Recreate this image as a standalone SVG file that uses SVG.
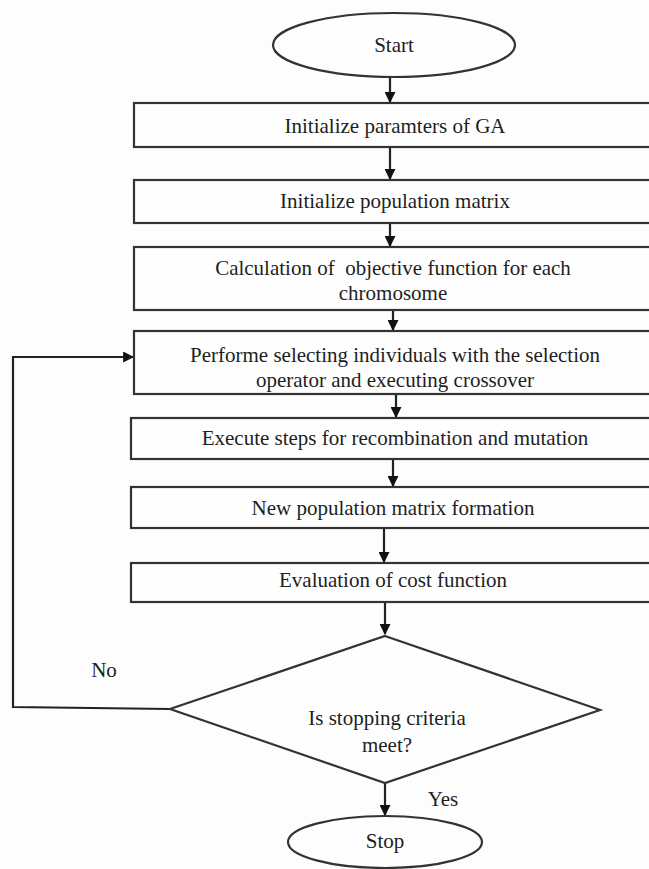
<svg xmlns="http://www.w3.org/2000/svg" width="649" height="869" viewBox="0 0 649 869">
  <style>
    .shape { fill: #fefefe; stroke: #333; stroke-width: 2.2; }
    .lbl { font-family: "Liberation Serif", "Times New Roman", serif; font-size: 21px; fill: #1e1e1e; text-anchor: middle; white-space: pre; }
    .conn { fill: none; stroke: #222; stroke-width: 2.2; }
  </style>
  <defs>
    <marker id="arrow" viewBox="0 0 10 10" refX="9" refY="5" markerWidth="5" markerHeight="5" orient="auto" markerUnits="strokeWidth">
      <path d="M0,0 L10,5 L0,10 Z" fill="#111"/>
    </marker>
  </defs>
  <rect x="0" y="0" width="649" height="869" fill="#fdfdfd"/>

  <g id="connectors">
    <line class="conn" x1="390" y1="77" x2="390" y2="102" marker-end="url(#arrow)"/>
    <line class="conn" x1="390" y1="147" x2="390" y2="179" marker-end="url(#arrow)"/>
    <line class="conn" x1="390" y1="223" x2="390" y2="246" marker-end="url(#arrow)"/>
    <line class="conn" x1="393" y1="310" x2="393" y2="330" marker-end="url(#arrow)"/>
    <line class="conn" x1="396" y1="394" x2="396" y2="417" marker-end="url(#arrow)"/>
    <line class="conn" x1="393" y1="459" x2="393" y2="486" marker-end="url(#arrow)"/>
    <line class="conn" x1="384" y1="528" x2="384" y2="562" marker-end="url(#arrow)"/>
    <line class="conn" x1="385" y1="602" x2="385" y2="634" marker-end="url(#arrow)"/>
    <line class="conn" x1="385" y1="783" x2="385" y2="815" marker-end="url(#arrow)"/>
    <polyline class="conn" points="170,709 13,707 13,357 133,357" marker-end="url(#arrow)"/>
  </g>

  <g id="start">
    <ellipse class="shape" cx="394" cy="45" rx="121" ry="32"/>
    <text class="lbl" x="394" y="52">Start</text>
  </g>
  <g id="init-params">
    <rect class="shape" x="134" y="103" width="525" height="44"/>
    <text class="lbl" x="395" y="133">Initialize paramters of GA</text>
  </g>
  <g id="init-population">
    <rect class="shape" x="134" y="180" width="525" height="43"/>
    <text class="lbl" x="395" y="208">Initialize population matrix</text>
  </g>
  <g id="objective">
    <rect class="shape" x="134" y="247" width="525" height="63"/>
    <text class="lbl" x="393" y="275">Calculation of  objective function for each</text>
    <text class="lbl" x="393" y="300">chromosome</text>
  </g>
  <g id="selection">
    <rect class="shape" x="134" y="331" width="525" height="63"/>
    <text class="lbl" x="395" y="362">Performe selecting individuals with the selection</text>
    <text class="lbl" x="395" y="387">operator and executing crossover</text>
  </g>
  <g id="recombination">
    <rect class="shape" x="131" y="418" width="528" height="41"/>
    <text class="lbl" x="395" y="445">Execute steps for recombination and mutation</text>
  </g>
  <g id="new-population">
    <rect class="shape" x="131" y="487" width="528" height="41"/>
    <text class="lbl" x="393" y="515">New population matrix formation</text>
  </g>
  <g id="evaluation">
    <rect class="shape" x="131" y="563" width="528" height="39"/>
    <text class="lbl" x="393" y="587">Evaluation of cost function</text>
  </g>
  <g id="decision">
    <polygon class="shape" points="385,636 600,710 385,783 170,709"/>
    <text class="lbl" x="387" y="725">Is stopping criteria</text>
    <text class="lbl" x="387" y="752">meet?</text>
  </g>
  <g id="stop">
    <ellipse class="shape" cx="385" cy="842" rx="97" ry="26"/>
    <text class="lbl" x="385" y="848">Stop</text>
  </g>
  <g id="edge-labels">
    <text class="lbl" x="104" y="677">No</text>
    <text class="lbl" x="443" y="806">Yes</text>
  </g>
</svg>
